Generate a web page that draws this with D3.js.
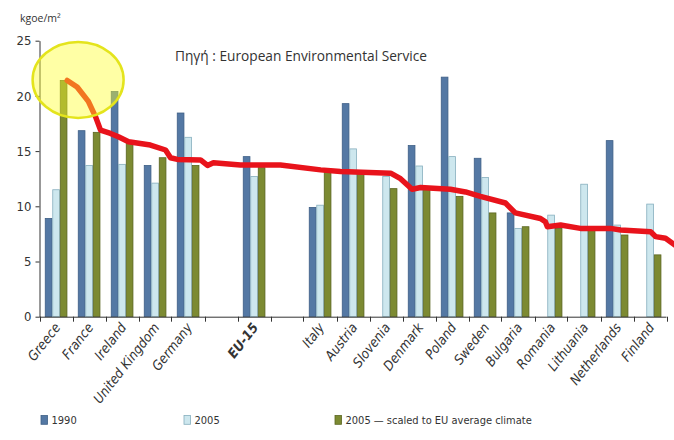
<!DOCTYPE html>
<html>
<head>
<meta charset="utf-8">
<script src="https://cdn.jsdelivr.net/npm/d3@7"></script>
<style>
  html, body { margin: 0; padding: 0; background: #ffffff; }
  svg { display: block; }
</style>
</head>
<body>
<svg id="chart" width="674" height="440"></svg>
<script>
// ---------- data ----------
const categories = ["Greece", "France", "Ireland", "United Kingdom", "Germany", "", "EU-15", "",
  "Italy", "Austria", "Slovenia", "Denmark", "Poland", "Sweden", "Bulgaria", "Romania",
  "Lithuania", "Netherlands", "Finland"];
const seriesNames = ["1990", "2005", "2005 \u2014 scaled to EU average climate"];
const values1990 = [8.9, 16.85, 20.4, 13.7, 18.45, null, 14.5, null,
  9.9, 19.3, null, 15.5, 21.7, 14.35, 9.4, null, null, 15.95, null];
const values2005 = [11.5, 13.7, 13.8, 12.1, 16.25, null, 12.7, null,
  10.1, 15.2, 12.7, 13.65, 14.5, 12.6, 8.0, 9.2, 12.0, 8.3, 10.2];
const values2005Scaled = [21.4, 16.7, 15.7, 14.4, 13.7, null, 13.5, null,
  13.1, 13.2, 11.6, 11.5, 10.9, 9.4, 8.15, 8.0, 7.9, 7.4, 5.6];
const yTicks = [0, 5, 10, 15, 20, 25];
const yLabel = "kgoe/m\u00B2";
const sourceNote = "\u03A0\u03b7\u03b3\u03ae : European Environmental Service";
// hand-drawn red trend annotation: position along category slots, value
const trendPos = [0.84, 1.14, 1.48, 1.70, 1.85, 2.15, 2.39, 2.70, 3.36, 3.82, 3.97, 4.18, 4.88, 5.09, 5.27,
  6.09, 7.30, 8.52, 9.12, 10.64, 10.94, 11.29, 11.55, 12.45, 12.91, 13.36, 14.12, 14.42, 15.18,
  15.33, 15.39, 15.79, 16.39, 17.30, 17.61, 18.52, 18.67, 18.97, 19.3];
const trendVal = [21.4, 20.8, 19.5, 18.1, 16.9, 16.6, 16.3, 15.85, 15.55, 15.1, 14.4, 14.25, 14.2, 13.7, 13.95,
  13.75, 13.75, 13.3, 13.15, 13.0, 12.5, 11.55, 11.7, 11.55, 11.3, 10.9, 10.3, 9.4, 8.9,
  8.6, 8.15, 8.3, 8.0, 8.0, 7.85, 7.7, 7.25, 7.1, 6.4];
// highlight ellipse centre (slot position, value)
const highlightPos = [1.17];
const highlightVal = [21.45];

(function () {
// ---------- layout ----------
const svg = d3.select("#chart");
const mLeft = 39.5, mRight = 666.5, mTop = 40.7, mBottom = 316.7;
const colors = ["#5478a4", "#cde7ee", "#7c8a32"];
const strokes = ["#3e5f86", "#86aebd", "#5a6520"];
const font = "'DejaVu Sans Condensed', 'DejaVu Sans', sans-serif";

const x0 = d3.scaleBand().domain(d3.range(categories.length)).range([mLeft, mRight]).paddingInner(0).paddingOuter(0);
const x1 = d3.scaleBand().domain(d3.range(3)).range([0, x0.bandwidth()]).paddingInner(0).paddingOuter(0.7);
const xPos = d3.scaleLinear().domain([0, categories.length]).range([mLeft, mRight]);
const y = d3.scaleLinear().domain([0, 25]).range([mBottom, mTop]);

const allSeries = [values1990, values2005, values2005Scaled];

// bars
const groups = svg.append("g").selectAll("g")
  .data(categories.map((c, i) => i))
  .join("g")
  .attr("transform", i => `translate(${x0(i)},0)`);
groups.selectAll("rect")
  .data(i => allSeries.map((s, k) => ({ k, v: s[i] })).filter(d => d.v != null))
  .join("rect")
  .attr("x", d => x1(d.k) + 0.5)
  .attr("y", d => y(d.v))
  .attr("width", x1.bandwidth() - 0.8)
  .attr("height", d => y(0) - y(d.v))
  .attr("fill", d => colors[d.k])
  .attr("stroke", d => strokes[d.k])
  .attr("stroke-width", 0.8);

// y axis
const yAxis = svg.append("g")
  .attr("transform", `translate(${mLeft},0)`)
  .call(d3.axisLeft(y).tickValues(yTicks).tickSize(4).tickPadding(4).tickSizeOuter(0));
yAxis.select(".domain").attr("stroke", "#333");
yAxis.selectAll(".tick line").attr("stroke", "#333");
yAxis.selectAll("text").attr("font-family", font).attr("font-size", 13).attr("fill", "#333");

// x axis line and boundary ticks
svg.append("line").attr("x1", mLeft).attr("x2", mRight).attr("y1", mBottom + 0.5).attr("y2", mBottom + 0.5)
  .attr("stroke", "#333").attr("stroke-width", 1);
svg.append("g").selectAll("line")
  .data(d3.range(categories.length + 1))
  .join("line")
  .attr("x1", i => Math.round(xPos(i)) + 0.5).attr("x2", i => Math.round(xPos(i)) + 0.5)
  .attr("y1", mBottom).attr("y2", mBottom + 5)
  .attr("stroke", "#333");

// category labels
svg.append("g").selectAll("text")
  .data(categories.map((c, i) => ({ c, i })).filter(d => d.c))
  .join("text")
  .attr("transform", d => `translate(${x0(d.i) + x0.bandwidth() / 2 + 5},${mBottom + 11}) rotate(-52)`)
  .attr("text-anchor", "end")
  .attr("font-family", font)
  .attr("font-size", 13.5)
  .attr("font-style", "italic")
  .attr("font-weight", d => d.c === "EU-15" ? "bold" : "normal")
  .attr("fill", "#333")
  .text(d => d.c);

// y label & source note
svg.append("text").attr("x", 20).attr("y", 22).attr("font-family", "'Open Sans', sans-serif")
  .attr("font-size", 10.5).attr("fill", "#333").text(yLabel);
svg.append("text").attr("x", 175).attr("y", 61).attr("font-family", "'Open Sans', sans-serif")
  .attr("font-size", 13.7).attr("fill", "#333").text(sourceNote);

// red trend line
const line = d3.line().x((d, i) => xPos(trendPos[i])).y((d, i) => y(trendVal[i])).curve(d3.curveLinear);
svg.append("path").datum(trendVal).attr("d", line)
  .attr("fill", "none").attr("stroke", "#e8131b").attr("stroke-width", 5.5)
  .attr("stroke-linejoin", "round").attr("stroke-linecap", "round");

// yellow highlight ellipse (over everything)
svg.append("ellipse")
  .attr("cx", xPos(highlightPos[0])).attr("cy", y(highlightVal[0]))
  .attr("rx", 45.5).attr("ry", 38)
  .attr("fill", "rgba(255,255,40,0.42)")
  .attr("stroke", "#e4e41c").attr("stroke-width", 2.5);

// legend
const legendX = [41, 184, 335];
const lg = svg.append("g").selectAll("g").data(seriesNames).join("g")
  .attr("transform", (d, i) => `translate(${legendX[i]},415.5)`);
lg.append("rect").attr("width", 6.5).attr("height", 8.8)
  .attr("fill", (d, i) => colors[i]).attr("stroke", (d, i) => strokes[i]).attr("stroke-width", 0.8);
lg.append("text").attr("x", 10.5).attr("y", 8.8).attr("font-family", font).attr("font-size", 11)
  .attr("fill", "#333").text(d => d);
})();
</script>
</body>
</html>
